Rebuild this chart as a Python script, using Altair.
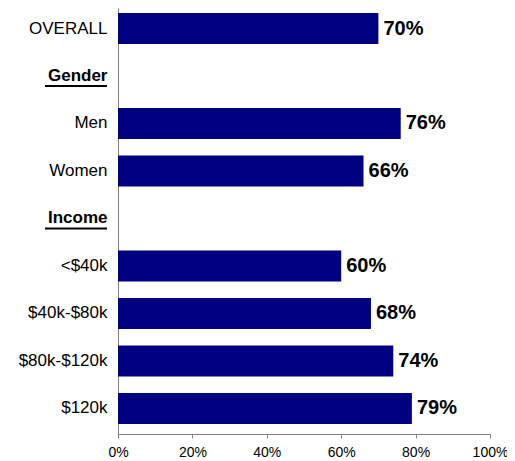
import altair as alt
import pandas as pd

categories = ["OVERALL", "Gender", "Men", "Women", "Income",
              "<$40k", "$40k-$80k", "$80k-$120k", "$120k"]
values = [70, None, 76, 66, None, 60, 68, 74, 79]
headers = ["Gender", "Income"]
tick_values = [0, 20, 40, 60, 80, 100]

df = pd.DataFrame({"category": categories, "value": values})
hdr = pd.DataFrame({"category": headers})

FONT = "Liberation Sans, Arial, sans-serif"

yscale = alt.Scale(domain=categories, paddingInner=0.347, paddingOuter=0.158, align=0.333)
y = alt.Y("category:N", sort=categories, scale=yscale, title=None,
          axis=alt.Axis(ticks=False, domainColor="#808080", labelFontSize=17,
                        labelColor="#000000", labelFont=FONT, labelPadding=11,
                        labelFontWeight=alt.ExprRef("indexof(['Gender','Income'], datum.value) >= 0 ? 'bold' : 'normal'"),
                        grid=False))
x = alt.X("value:Q", scale=alt.Scale(domain=[0, 100]), title=None,
          axis=alt.Axis(values=tick_values, labelExpr="datum.value + '%'", grid=False,
                        domainColor="#808080", tickColor="#808080", tickSize=4,
                        labelFontSize=14, labelFont=FONT, labelColor="#000000",
                        labelAlign="center", labelPadding=7, labelFlush=False))

base = alt.Chart(df).transform_filter("datum.value != null")
bars = base.mark_bar(color="#000080").encode(x=x, y=y)
labels = base.transform_calculate(lbl="datum.value + '%'").mark_text(
    align="left", baseline="middle", dx=5, fontSize=20, fontWeight="bold", font=FONT, color="#000000"
).encode(x="value:Q", y=alt.Y("category:N", sort=categories, scale=yscale), text="lbl:N")
under = alt.Chart(hdr).mark_rule(color="#000000", strokeWidth=2, yOffset=10).encode(
    y=alt.Y("category:N", sort=categories, scale=yscale),
    x=alt.value(-73), x2=alt.value(-11))

chart = alt.layer(bars, labels, under).properties(
    width=372, height=426,
    autosize=alt.AutoSizeParams(type="none"),
    padding={"left": 110, "top": 0, "right": 17, "bottom": 27},
).configure_view(stroke=None).configure_axisX(domainWidth=1).configure_axisY(domainWidth=1)

chart.save("out.html", embed_options={"renderer": "svg", "actions": False})
